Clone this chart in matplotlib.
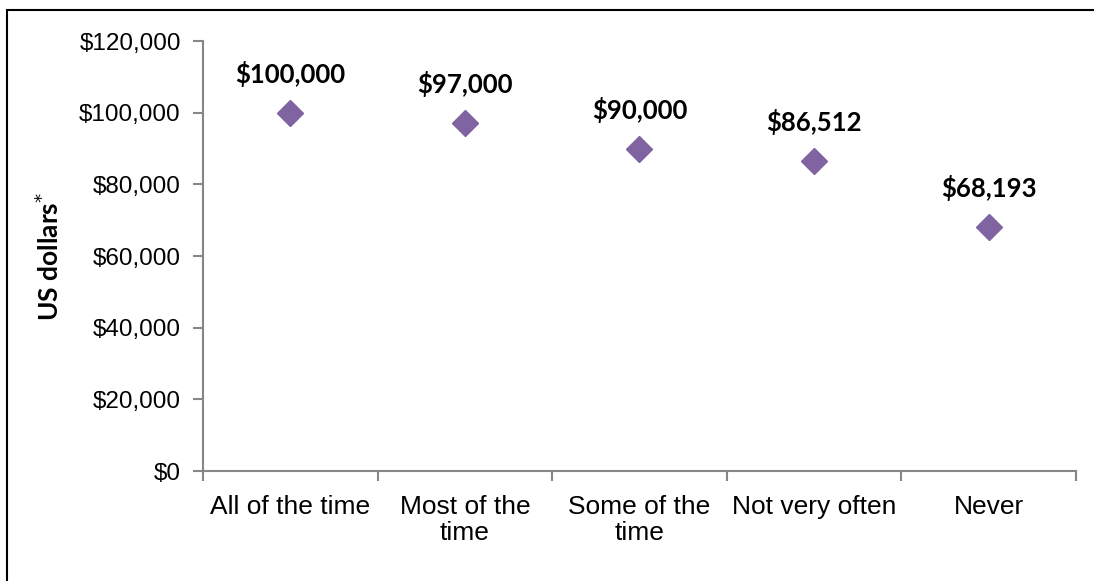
import matplotlib.pyplot as plt
from matplotlib.patches import Rectangle
from matplotlib.ticker import FuncFormatter, FixedLocator

# Data
categories = ['All of the time', 'Most of the\ntime', 'Some of the\ntime', 'Not very often', 'Never']
values = [100000, 97000, 90000, 86512, 68193]
value_labels = ['$100,000', '$97,000', '$90,000', '$86,512', '$68,193']

purple = '#8064A2'
grey = '#868686'

fig = plt.figure(figsize=(10.94, 5.81), dpi=100)
ax = fig.add_axes([0.1856, 0.1893, 0.7979, 0.7401])

x = list(range(len(categories)))
ax.plot(x, values, linestyle='none', marker='D', markersize=13, color=purple)

for xi, v, lab in zip(x, values, value_labels):
    ax.annotate(lab, (xi, v), xytext=(0, 39), textcoords='offset pixels',
                ha='center', va='center', fontsize=18.5, fontweight='bold',
                family='Lato', color='black')

ax.set_xlim(-0.5, len(categories) - 0.5)
ax.set_ylim(0, 120000)
ax.set_yticks(range(0, 120001, 20000))
ax.yaxis.set_major_formatter(FuncFormatter(lambda v, p: '${:,.0f}'.format(v)))

ax.set_xticks(x)
ax.set_xticklabels(categories, fontsize=19, family='Liberation Sans', linespacing=1.1)
ax.xaxis.set_minor_locator(FixedLocator([i - 0.5 for i in range(len(categories) + 1)]))
ax.tick_params(axis='x', which='major', length=0, pad=17)
ax.tick_params(axis='x', which='minor', length=7, width=1.5, color=grey, direction='out')
ax.tick_params(axis='y', length=7, width=1.5, color=grey, direction='out', pad=9)
for t in ax.get_yticklabels():
    t.set_fontsize(17.5)
    t.set_family('Liberation Sans')

for s in ['top', 'right']:
    ax.spines[s].set_visible(False)
for s in ['left', 'bottom']:
    ax.spines[s].set_color(grey)
    ax.spines[s].set_linewidth(1.5)

ax.set_ylabel('US dollars$^{*}$', fontsize=19, fontweight='bold', family='Lato', labelpad=12)

# outer border (runs off the right and bottom edges)
fig.patches.append(Rectangle((7 / 1094, -10 / 581), 1100 / 1094, 581 / 581,
                             transform=fig.transFigure, fill=False,
                             edgecolor='black', linewidth=1.5))

plt.savefig('out.png', dpi=100)
